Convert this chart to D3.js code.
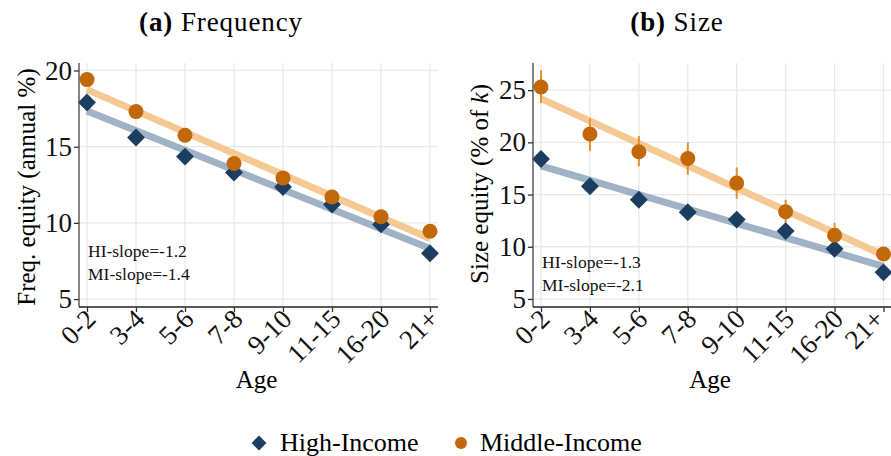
<!DOCTYPE html>
<html>
<head>
<meta charset="utf-8">
<script src="https://cdn.jsdelivr.net/npm/d3@7"></script>
<style>
  body { margin: 0; background: #fff; }
  svg { display: block; font-family: "Liberation Serif", "Times New Roman", serif; }
</style>
</head>
<body>
<svg></svg>
<script>
// age groups on the x axis
var ageGroups = ['0-2', '3-4', '5-6', '7-8', '9-10', '11-15', '16-20', '21+'];

// panel (a): frequency of equity, annual %
var freqHigh = [17.9, 15.6, 14.35, 13.3, 12.35, 11.2, 9.9, 8.0];
var freqMid = [19.4, 17.3, 15.75, 13.9, 12.95, 11.7, 10.4, 9.45];

// panel (b): size of equity, % of k (with MI confidence bands)
var sizeHigh = [18.4, 15.8, 14.5, 13.3, 12.6, 11.5, 9.8, 7.55];
var sizeMid = [25.3, 20.8, 19.1, 18.45, 16.1, 13.35, 11.1, 9.3];
var sizeMidLo = [23.8, 19.2, 17.7, 16.9, 14.6, 12.3, 10.0, 8.8];
var sizeMidHi = [26.9, 22.3, 20.6, 20.0, 17.6, 14.5, 12.3, 9.8];

var freqTicks = [5, 10, 15, 20];
var sizeTicks = [5, 10, 15, 20, 25];

var hiColor = '#1b3d5f', miColor = '#c1680b';
var hiFit = '#9fb2c6', miFit = '#f5c994';

var svgWidth = 891, svgHeight = 456;
var svg = d3.select('svg').attr('width', svgWidth).attr('height', svgHeight);

// simple least squares line through the points
function fitLine(vals) {
    var n = vals.length, mx = (n - 1) / 2, my = d3.mean(vals), sxy = 0, sxx = 0;
    vals.forEach(function(v, i) { sxy += (i - mx) * (v - my); sxx += (i - mx) * (i - mx); });
    var b = sxy / sxx, a = my - b * mx;
    return [a, a + b * (n - 1)];
}

function drawPanel(cfg) {
    var g = svg.append('g');
    var x = d3.scalePoint().domain(ageGroups).range([cfg.x0, cfg.x1]);
    var y = d3.scaleLinear().domain(cfg.yDomain).range([307, 63]);
    var left = cfg.axisLeft, right = cfg.axisRight;

    // grid
    g.selectAll('.vgrid').data(ageGroups).enter().append('line')
        .attr('x1', function(d) { return x(d); }).attr('x2', function(d) { return x(d); })
        .attr('y1', 63).attr('y2', 307)
        .attr('stroke', '#e9e9e9').attr('stroke-width', 1.3);
    g.selectAll('.hgrid').data(cfg.ticks).enter().append('line')
        .attr('x1', left).attr('x2', right)
        .attr('y1', function(d) { return y(d); }).attr('y2', function(d) { return y(d); })
        .attr('stroke', '#e9e9e9').attr('stroke-width', 1.3);

    // fitted lines
    [[cfg.high, hiFit], [cfg.mid, miFit]].forEach(function(s) {
        var f = fitLine(s[0]);
        g.append('line')
            .attr('x1', x(ageGroups[0])).attr('y1', y(f[0]))
            .attr('x2', x(ageGroups[ageGroups.length - 1])).attr('y2', y(f[1]))
            .attr('stroke', s[1]).attr('stroke-width', 7);
    });

    // error bars for MI
    if (cfg.midLo) {
        g.selectAll('.err').data(ageGroups).enter().append('line')
            .attr('x1', function(d) { return x(d); }).attr('x2', function(d) { return x(d); })
            .attr('y1', function(d, i) { return y(cfg.midLo[i]); })
            .attr('y2', function(d, i) { return y(cfg.midHi[i]); })
            .attr('stroke', '#e88f25').attr('stroke-width', 2);
    }

    // markers
    g.selectAll('.hi').data(cfg.high).enter().append('path')
        .attr('d', d3.symbol().type(d3.symbolSquare).size(160))
        .attr('transform', function(d, i) { return 'translate(' + x(ageGroups[i]) + ',' + y(d) + ') rotate(45)'; })
        .attr('fill', hiColor);
    g.selectAll('.mi').data(cfg.mid).enter().append('circle')
        .attr('cx', function(d, i) { return x(ageGroups[i]); })
        .attr('cy', function(d) { return y(d); })
        .attr('r', 7.5)
        .attr('fill', miColor);

    // axes
    var ya = g.append('g').attr('transform', 'translate(' + left + ',0)')
        .call(d3.axisLeft(y).tickValues(cfg.ticks).tickSize(5).tickPadding(2));
    ya.select('.domain').attr('d', 'M0,63V307').attr('stroke', '#444').attr('stroke-width', 1.3);
    ya.selectAll('.tick line').attr('stroke', '#333').attr('stroke-width', 1.3);
    ya.selectAll('text').attr('font-size', 27).attr('fill', '#111').attr('font-family', 'Liberation Serif');

    var xa = g.append('g').attr('transform', 'translate(0,307)')
        .call(d3.axisBottom(x).tickSize(5));
    xa.select('.domain').attr('d', 'M' + left + ',0H' + right).attr('stroke', '#222').attr('stroke-width', 1.5);
    xa.selectAll('.tick line').attr('stroke', '#333').attr('stroke-width', 1.3);
    xa.selectAll('text').attr('font-size', 27).attr('fill', '#111').attr('font-family', 'Liberation Serif')
        .attr('text-anchor', 'end').attr('x', 0).attr('y', 0).attr('dy', '0.35em')
        .attr('transform', function(d, i) {
            var dx = (cfg.lastShift && i === ageGroups.length - 1) ? cfg.lastShift : 3;
            return 'translate(' + dx + ',7) rotate(-45)';
        });

    // titles
    g.append('text').attr('x', (left + right) / 2 - 2).attr('y', 388)
        .attr('text-anchor', 'middle').attr('font-size', 25).text('Age');

    var t = g.append('text').attr('x', cfg.titleX).attr('y', 31)
        .attr('text-anchor', 'middle').attr('font-size', 27).attr('letter-spacing', 0.9);
    t.append('tspan').attr('font-weight', 'bold').text(cfg.tag);
    t.append('tspan').text(' ' + cfg.title);

    var yl = g.append('text')
        .attr('transform', 'translate(' + cfg.yLabelX + ',' + cfg.yLabelY + ') rotate(-90)')
        .attr('text-anchor', 'middle').attr('font-size', 25);
    cfg.yLabel.forEach(function(p) {
        yl.append('tspan').attr('font-style', p[1] ? 'italic' : null).text(p[0]);
    });

    cfg.notes.forEach(function(n, i) {
        g.append('text').attr('x', left + 9).attr('y', cfg.noteY + i * 22.5)
            .attr('font-size', 17.5).attr('fill', '#111').text(n);
    });
}

drawPanel({
    x0: 87, x1: 430, axisLeft: 79, axisRight: 438,
    yDomain: [4.48, 20.49], ticks: freqTicks,
    high: freqHigh, mid: freqMid,
    tag: '(a)', title: 'Frequency', titleX: 221,
    yLabel: [['Freq. equity (annual %)', false]], yLabelX: 35, yLabelY: 187,
    notes: ['HI-slope=-1.2', 'MI-slope=-1.4'], noteY: 257
});

drawPanel({
    x0: 541, x1: 883.5, axisLeft: 533, axisRight: 891,
    yDomain: [4.23, 27.6], ticks: sizeTicks,
    high: sizeHigh, mid: sizeMid, midLo: sizeMidLo, midHi: sizeMidHi,
    tag: '(b)', title: 'Size', titleX: 677, lastShift: -5,
    yLabel: [['Size equity (% of ', false], ['k', true], [')', false]], yLabelX: 488, yLabelY: 184,
    notes: ['HI-slope=-1.3', 'MI-slope=-2.1'], noteY: 268
});

// legend
var legend = svg.append('g').attr('transform', 'translate(0,443)');
legend.append('path')
    .attr('d', d3.symbol().type(d3.symbolSquare).size(110))
    .attr('transform', 'translate(259,0) rotate(45)')
    .attr('fill', hiColor);
legend.append('text').attr('x', 280).attr('y', 8).attr('font-size', 26).text('High-Income');
legend.append('circle').attr('cx', 461).attr('cy', 0).attr('r', 6).attr('fill', miColor);
legend.append('text').attr('x', 480).attr('y', 8).attr('font-size', 26).text('Middle-Income');
</script>
</body>
</html>
